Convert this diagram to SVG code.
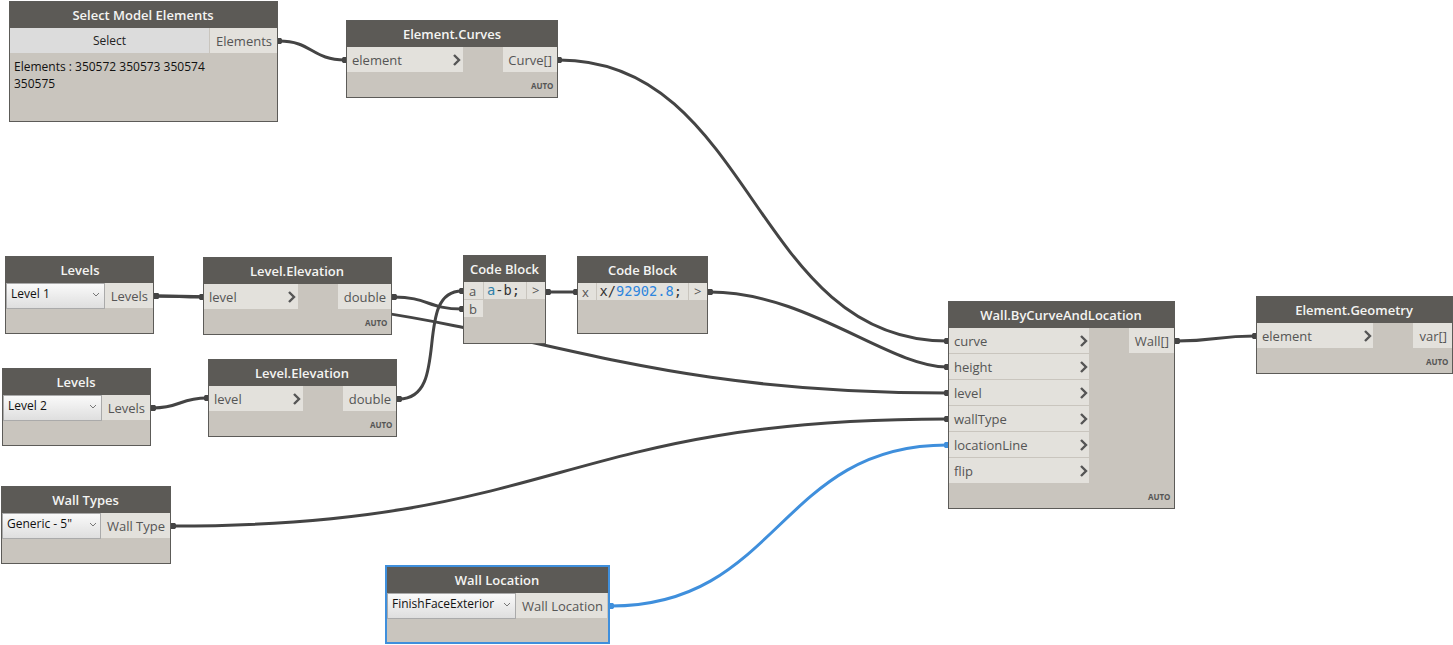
<svg xmlns="http://www.w3.org/2000/svg" width="1453" height="645" viewBox="0 0 1453 645">
<style>
text{font-family:"Open Sans","Noto Sans","Liberation Sans",sans-serif}
.b{fill:#c9c5be;stroke:#5c5b58;stroke-width:1}
.bs{fill:#c9c5be;stroke:#3f8fdc;stroke-width:2}
.h{fill:#5c5a56}
.p{fill:#e3e1dc}
.t{fill:#f4f4f2;font-size:13px;font-weight:600;text-anchor:middle}
.l{fill:#555;font-size:13px}
.r{fill:#555;font-size:13px;text-anchor:end}
.d{fill:#111;font-size:12px}
.a{fill:#555;font-size:8px;font-weight:700;text-anchor:end}
.c{fill:none;stroke:#555;stroke-width:2.4}
.dd{fill:none;stroke:#777;stroke-width:1}
.cb{fill:url(#g);stroke:#aaa;stroke-width:1}
.m{font-family:"DejaVu Sans Mono","Liberation Mono",monospace;font-size:13.7px;fill:#333}
.w{fill:none;stroke:#444;stroke-width:3;marker-start:url(#o);marker-end:url(#o)}
.wb{fill:none;stroke:#3f8fdc;stroke-width:3;marker-start:url(#ob);marker-end:url(#ob)}
.s{stroke:#c9c5be;stroke-width:1}
</style>
<defs>
<linearGradient id="g" x1="0" y1="0" x2="0" y2="1"><stop offset="0" stop-color="#fafafa"/><stop offset="1" stop-color="#dedede"/></linearGradient>
<marker id="o" viewBox="0 0 6 6" refX="3" refY="3" markerWidth="2.2" markerHeight="2.2" orient="auto"><circle cx="3" cy="3" r="3" fill="#444"/></marker>
<marker id="ob" viewBox="0 0 6 6" refX="3" refY="3" markerWidth="2.2" markerHeight="2.2" orient="auto"><circle cx="3" cy="3" r="3" fill="#3f8fdc"/></marker>
</defs>
<rect width="1453" height="645" fill="#fff"/>
<g id="connectors">
<path class="w" d="M279 41C312 41 312 60 345 60"/>
<path class="w" d="M559 60C753 60 753 341 947 341"/>
<path class="w" d="M156 296C179 296 179 297 202 297"/>
<path class="w" d="M156 296C500 296 575 393 947 393"/>
<path class="w" d="M153 408C180 408 180 398 207 398"/>
<path class="w" d="M394 297C428 297 428 309 462 309"/>
<path class="w" d="M399 399C452 399 412 291 462 291"/>
<path class="w" d="M548 292C562 292 562 292 576 292"/>
<path class="w" d="M710 292C807 292 889 367 947 367"/>
<path class="w" d="M173 526C560 526 560 419 947 419"/>
<path class="wb" d="M611 606C779 606 779 445 947 445"/>
<path class="w" d="M1177 341C1216 341 1216 336 1255 336"/>
</g>
<g id="select-model-elements">
<rect class="b" x="9.500" y="1.500" width="268" height="120"/><rect class="h" x="10" y="2" width="267" height="26"/>
<rect x="10" y="28" width="199" height="25" fill="#dcdcdc"/><rect class="p" x="210" y="28" width="67" height="25"/>
<text class="t" x="143" y="20">Select Model Elements</text>
<text x="109.500" y="45" text-anchor="middle" style="fill:#222;font-size:12px">Select</text>
<text class="r" x="272" y="46">Elements</text>
<text class="d" x="14" y="71">Elements : 350572 350573 350574</text>
<text class="d" x="14" y="88">350575</text>
</g>
<g id="element-curves">
<rect class="b" x="346.500" y="20.500" width="211" height="77"/><rect class="h" x="347" y="21" width="210" height="26"/>
<rect class="p" x="347" y="47" width="116" height="25"/><rect class="p" x="503" y="47" width="54" height="25"/>
<text class="t" x="452" y="39">Element.Curves</text>
<text class="l" x="352" y="65">element</text><text class="r" x="552" y="65">Curve[]</text>
<path class="c" d="M454 55l5 5-5 5"/><text class="a" x="553.500" y="89">AUTO</text>
</g>
<g id="levels-1">
<rect class="b" x="5.500" y="256.500" width="148" height="77"/><rect class="h" x="6" y="257" width="147" height="26"/>
<rect class="p" x="105" y="283" width="48" height="25"/><rect class="cb" x="6.500" y="283.500" width="98" height="25"/>
<text class="t" x="80" y="275">Levels</text>
<text class="d" x="11" y="298">Level 1</text><path class="dd" d="M93 293l3 3 3-3"/>
<text class="r" x="148" y="301">Levels</text>
</g>
<g id="level-elevation-1">
<rect class="b" x="203.500" y="257.500" width="188" height="77"/><rect class="h" x="204" y="258" width="187" height="26"/>
<rect class="p" x="204" y="284" width="94" height="25"/><rect class="p" x="338" y="284" width="53" height="25"/>
<text class="t" x="297" y="276">Level.Elevation</text>
<text class="l" x="209" y="302">level</text><text class="r" x="386" y="302">double</text>
<path class="c" d="M289 292l5 5-5 5"/><text class="a" x="387.500" y="326">AUTO</text>
</g>
<g id="levels-2">
<rect class="b" x="2.500" y="368.500" width="148" height="77"/><rect class="h" x="3" y="369" width="147" height="26"/>
<rect class="p" x="102" y="395" width="48" height="25"/><rect class="cb" x="3.500" y="395.500" width="98" height="25"/>
<text class="t" x="76" y="387">Levels</text>
<text class="d" x="8" y="410">Level 2</text><path class="dd" d="M90 405l3 3 3-3"/>
<text class="r" x="145" y="413">Levels</text>
</g>
<g id="level-elevation-2">
<rect class="b" x="208.500" y="359.500" width="188" height="77"/><rect class="h" x="209" y="360" width="187" height="26"/>
<rect class="p" x="209" y="386" width="94" height="25"/><rect class="p" x="343" y="386" width="53" height="25"/>
<text class="t" x="302" y="378">Level.Elevation</text>
<text class="l" x="214" y="404">level</text><text class="r" x="391" y="404">double</text>
<path class="c" d="M294 394l5 5-5 5"/><text class="a" x="392.500" y="428">AUTO</text>
</g>
<g id="code-block-1">
<rect class="b" x="463.500" y="255.500" width="82" height="88"/><rect class="h" x="464" y="256" width="81" height="26"/>
<rect class="p" x="464" y="282" width="19" height="17"/><rect class="p" x="464" y="300" width="19" height="17"/><rect class="p" x="484" y="282" width="42" height="17"/><rect class="p" x="527" y="282" width="18" height="17"/>
<text class="t" x="504.500" y="274">Code Block</text>
<text class="l" x="469" y="296">a</text><text class="l" x="469" y="314">b</text>
<text class="m" x="487" y="295"><tspan fill="#2f7fa8">a</tspan>-b;</text>
<text class="l" x="532" y="295">&gt;</text>
</g>
<g id="code-block-2">
<rect class="b" x="577.500" y="256.500" width="130" height="77"/><rect class="h" x="578" y="257" width="129" height="26"/>
<rect class="p" x="578" y="283" width="18" height="17"/><rect class="p" x="597" y="283" width="91" height="17"/><rect class="p" x="689" y="283" width="18" height="17"/>
<text class="t" x="642.500" y="275">Code Block</text>
<text class="l" x="582" y="296.500">x</text>
<text class="m" x="599.500" y="296">x/<tspan fill="#2e86de">92902.8</tspan>;</text>
<text class="l" x="694" y="296">&gt;</text>
</g>
<g id="wall-by-curve-and-location">
<rect class="b" x="948.500" y="301.500" width="226" height="207"/><rect class="h" x="949" y="302" width="225" height="26"/>
<rect class="p" x="949" y="328" width="140" height="155"/><rect class="p" x="1129" y="328" width="45" height="25"/>
<path class="s" d="M949 353.500h140M949 379.500h140M949 405.500h140M949 431.500h140M949 457.500h140"/>
<text class="t" x="1061" y="320">Wall.ByCurveAndLocation</text>
<text class="l" x="954" y="346">curve</text><text class="l" x="954" y="372">height</text><text class="l" x="954" y="398">level</text><text class="l" x="954" y="424">wallType</text><text class="l" x="954" y="450">locationLine</text><text class="l" x="954" y="476">flip</text>
<text class="r" x="1169" y="346">Wall[]</text>
<path class="c" d="M1081 336l5 5-5 5M1081 362l5 5-5 5M1081 388l5 5-5 5M1081 414l5 5-5 5M1081 440l5 5-5 5M1081 466l5 5-5 5"/>
<text class="a" x="1170.500" y="500">AUTO</text>
</g>
<g id="element-geometry">
<rect class="b" x="1256.500" y="296.500" width="196" height="77"/><rect class="h" x="1257" y="297" width="195" height="26"/>
<rect class="p" x="1257" y="323" width="116" height="25"/><rect class="p" x="1413" y="323" width="39" height="25"/>
<text class="t" x="1354" y="315">Element.Geometry</text>
<text class="l" x="1262" y="341">element</text><text class="r" x="1447" y="341">var[]</text>
<path class="c" d="M1365 331l5 5-5 5"/><text class="a" x="1448.500" y="365">AUTO</text>
</g>
<g id="wall-types">
<rect class="b" x="1.500" y="486.500" width="169" height="77"/><rect class="h" x="2" y="487" width="168" height="26"/>
<rect class="p" x="101" y="513" width="69" height="25"/><rect class="cb" x="2.500" y="513.500" width="98" height="25"/>
<text class="t" x="85.500" y="505">Wall Types</text>
<text class="d" x="7" y="528">Generic - 5"</text><path class="dd" d="M90 523l3 3 3-3"/>
<text class="r" x="165" y="531">Wall Type</text>
</g>
<g id="wall-location">
<rect class="bs" x="386" y="566" width="223" height="77"/><rect class="h" x="387" y="567" width="221" height="26"/>
<rect class="p" x="516" y="593" width="91" height="25"/><rect class="cb" x="387.500" y="593.500" width="128" height="25"/>
<text class="t" x="497" y="585">Wall Location</text>
<text class="d" x="392" y="608">FinishFaceExterior</text><path class="dd" d="M504 603l3 3 3-3"/>
<text class="r" x="603" y="611">Wall Location</text>
</g>
</svg>
